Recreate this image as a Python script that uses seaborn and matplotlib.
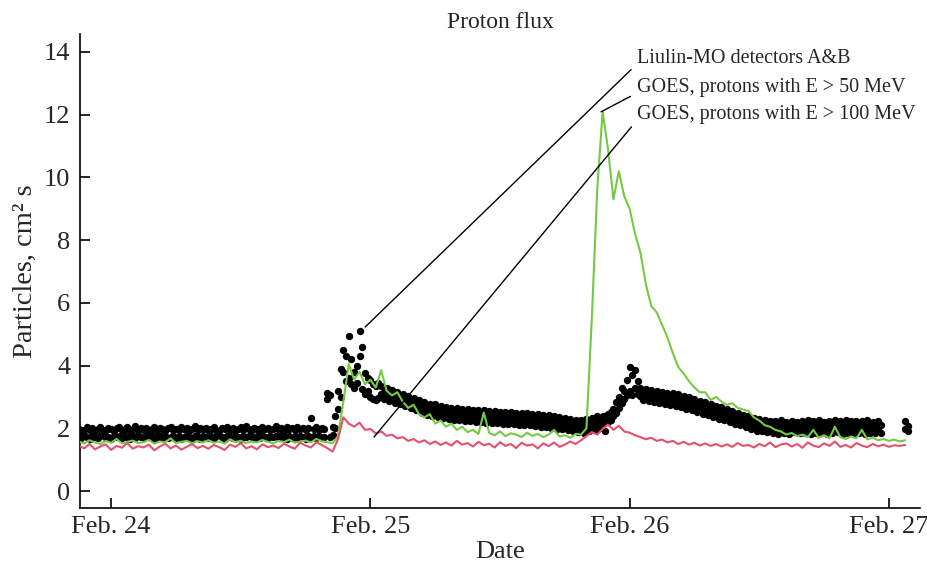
import numpy as np
import pandas as pd
import seaborn as sns
import matplotlib.pyplot as plt

# Liulin samples every 15 min, GOES every 30 min; both start Feb 23, 21:00 (time in days)
t0 = 23.875
liulin_step = 1 / 96
goes_step = 1 / 48

nan = np.nan

liulin_a = [1.99, 1.93, 1.96, 2.03, 1.95, 2.01, 1.92, 1.98, 2.04, 1.96, 1.94, 2.02, 1.97, 1.91, 2.00, 2.05,
            1.95, 1.99, 2.03, 1.93, 1.97, 2.06, 1.94, 2.00, 1.96, 2.02, 1.92, 1.98, 2.04, 1.95, 2.01, 1.97,
            1.93, 2.00, 2.05, 1.96, 1.99, 1.94, 2.03, 1.97, 2.01, 1.92, 1.98, 2.06, 1.95, 2.00, 1.97, 2.02,
            1.94, 1.99, 2.04, 1.96, 1.92, 2.01, 1.98, 2.05, 1.95, 2.00, 1.93, 1.97, 2.03, 1.96, 2.08, 1.99,
            1.95, 2.02, 1.97, 1.93, 2.04, 1.98, 2.01, 1.94, 1.99, 2.06, 1.96, 2.00, 1.93, 2.03, 1.97, 2.01,
            1.95, 2.04, 1.98, 2.02, 1.94, 2.00, 2.33, 1.97, 2.05, 1.96, 2.01, 1.98, 3.12, 3.05, 2.04, 2.40,
            3.20, 3.90, 4.50, 4.30, 4.95, 4.20, 3.80, 4.00, 5.10, 4.60, 3.75, 3.60, 3.55, 3.40, 3.35, 3.45,
            3.34, 3.17, 3.28, 3.10, 3.22, 3.06, 3.15, 2.99, 3.09, 2.93, 3.02, 2.86, 2.97, 2.80, 2.90, 2.73,
            2.84, 2.68, 2.79, 2.65, 2.76, 2.60, 2.72, 2.56, 2.69, 2.55, 2.66, 2.52, 2.66, 2.50, 2.63, 2.48,
            2.61, 2.46, 2.59, 2.45, 2.58, 2.43, 2.57, 2.42, 2.55, 2.41, 2.54, 2.40, 2.53, 2.39, 2.52, 2.38,
            2.52, 2.37, 2.50, 2.36, 2.49, 2.34, 2.48, 2.33, 2.46, 2.31, 2.45, 2.30, 2.43, 2.28, 2.41, 2.26,
            2.39, 2.24, 2.37, 2.22, 2.34, 2.19, 2.31, 2.16, 2.28, 2.13, 2.25, 2.10, 2.30, 2.16, 2.34, 2.20,
            2.38, 2.27, 2.40, 2.30, 2.45, 2.52, 2.62, 2.85, 3.00, 3.30, 3.20, 3.55, 3.95, 3.70, 3.85, 3.50,
            3.29, 3.14, 3.26, 3.11, 3.23, 3.08, 3.20, 3.05, 3.17, 3.02, 3.14, 2.99, 3.11, 2.96, 3.08, 2.92,
            3.04, 2.87, 2.99, 2.82, 2.93, 2.77, 2.88, 2.71, 2.83, 2.66, 2.77, 2.61, 2.72, 2.55, 2.67, 2.50,
            2.61, 2.44, 2.55, 2.39, 2.50, 2.33, 2.44, 2.27, 2.39, 2.22, 2.33, 2.17, 2.29, 2.14, 2.27, 2.12,
            2.24, 2.10, 2.22, 2.08, 2.25, 2.11, 2.21, 2.07, 2.24, 2.12, 2.20, 2.09, 2.23, 2.10, 2.26, 2.08,
            2.22, 2.09, 2.25, 2.11, 2.21, 2.08, 2.24, 2.10, 2.27, 2.12, 2.22, 2.07, 2.25, 2.11, 2.23, 2.09,
            2.24, 2.10, 2.22, 2.08, 2.26, 2.11, 2.21, 2.09, 2.23, 2.10, nan, nan, nan, nan, nan, nan,
            nan, nan, 2.22, 2.08]

liulin_b = [1.74, 1.69, 1.78, 1.71, 1.66, 1.76, 1.72, 1.68, 1.75, 1.79, 1.70, 1.73, 1.67, 1.76, 1.71, 1.74,
            1.69, 1.77, 1.72, 1.66, 1.75, 1.70, 1.78, 1.73, 1.68, 1.74, 1.71, 1.79, 1.67, 1.73, 1.76, 1.70,
            1.75, 1.68, 1.72, 1.77, 1.70, 1.74, 1.66, 1.73, 1.78, 1.71, 1.69, 1.75, 1.72, 1.67, 1.76, 1.73,
            1.70, 1.76, 1.68, 1.74, 1.79, 1.71, 1.67, 1.75, 1.72, 1.69, 1.77, 1.73, 1.66, 1.74, 1.71, 1.76,
            1.72, 1.67, 1.75, 1.70, 1.78, 1.73, 1.68, 1.76, 1.71, 1.74, 1.69, 1.77, 1.72, 1.66, 1.75, 1.70,
            1.74, 1.69, 1.77, 1.72, 1.67, 1.75, 1.71, 1.74, 1.68, 1.76, 1.70, 1.73, 2.95, 1.72, 1.78, 2.00,
            2.60, 3.00, 3.80, 3.50, 3.60, 3.40, 3.30, 3.45, 4.30, 3.25, 3.10, 3.20, 3.00, 2.95, 2.90, 2.98,
            3.08, 2.93, 3.02, 2.88, 2.99, 2.82, 2.92, 2.76, 2.86, 2.70, 2.80, 2.64, 2.73, 2.57, 2.66, 2.50,
            2.59, 2.44, 2.55, 2.40, 2.51, 2.36, 2.47, 2.32, 2.44, 2.30, 2.42, 2.28, 2.40, 2.26, 2.38, 2.24,
            2.36, 2.22, 2.35, 2.21, 2.33, 2.20, 2.32, 2.18, 2.31, 2.17, 2.29, 2.16, 2.28, 2.15, 2.27, 2.14,
            2.27, 2.13, 2.25, 2.12, 2.24, 2.10, 2.22, 2.09, 2.21, 2.07, 2.19, 2.05, 2.17, 2.04, 2.15, 2.02,
            2.13, 1.99, 2.11, 1.97, 2.08, 1.94, 2.05, 1.91, 2.02, 1.88, 1.99, 1.86, 2.04, 1.92, 2.08, 1.96,
            2.15, 2.02, 2.18, 1.90, 2.20, 2.28, 2.40, 2.50, 2.65, 2.80, 2.95, 3.05, 3.20, 3.05, 3.30, 3.10,
            3.03, 2.90, 3.00, 2.87, 2.97, 2.84, 2.94, 2.81, 2.91, 2.78, 2.88, 2.75, 2.85, 2.72, 2.82, 2.68,
            2.78, 2.63, 2.73, 2.58, 2.67, 2.53, 2.62, 2.47, 2.57, 2.42, 2.51, 2.37, 2.46, 2.31, 2.41, 2.26,
            2.35, 2.20, 2.29, 2.15, 2.24, 2.09, 2.18, 2.03, 2.13, 1.98, 2.07, 1.93, 2.03, 1.90, 2.01, 1.88,
            1.99, 1.85, 1.97, 1.83, 2.00, 1.86, 1.96, 1.82, 1.98, 1.87, 1.95, 1.84, 1.99, 1.85, 2.01, 1.83,
            1.97, 1.84, 2.00, 1.86, 1.96, 1.83, 1.99, 1.85, 2.02, 1.87, 1.97, 1.82, 2.00, 1.86, 1.98, 1.84,
            1.99, 1.85, 1.97, 1.83, 2.01, 1.86, 1.96, 1.84, 1.98, 1.85, nan, nan, nan, nan, nan, nan,
            nan, nan, 1.98, 1.90]

goes_50 = [1.58, 1.52, 1.62, 1.55, 1.50, 1.60, 1.54, 1.66, 1.52, 1.57, 1.61, 1.53,
           1.56, 1.63, 1.51, 1.58, 1.55, 1.68, 1.53, 1.57, 1.60, 1.52, 1.59, 1.55,
           1.62, 1.54, 1.58, 1.51, 1.65, 1.56, 1.60, 1.53, 1.58, 1.55, 1.63, 1.57,
           1.52, 1.60, 1.56, 1.64, 1.54, 1.58, 1.61, 1.55, 1.66, 1.59, 1.56, 1.52,
           1.75, 2.85, 4.05, 3.55, 3.80, 3.40, 3.55, 3.30, 3.85, 3.20, 3.05, 3.15,
           2.85, 2.65, 2.75, 2.45, 2.35, 2.45, 2.15, 2.25, 2.05, 2.15, 1.95, 2.05,
           1.88, 1.95, 1.82, 2.50, 1.85, 1.78, 1.90, 1.75, 1.84, 1.80, 1.72, 1.86,
           1.76, 1.82, 1.72, 1.80, 1.95, 1.74, 1.78, 1.70, 1.82, 1.80, 2.00, 5.50,
           9.60, 12.10, 10.90, 9.30, 10.20, 9.40, 9.00, 8.20, 7.60, 6.60, 5.90, 5.70,
           5.30, 4.90, 4.40, 3.95, 3.75, 3.50, 3.30, 3.15, 3.15, 2.90, 3.00, 2.85,
           2.75, 2.80, 2.65, 2.60, 2.55, 2.35, 2.25, 2.10, 2.05, 1.95, 1.90, 1.80,
           1.85, 1.75, 1.80, 1.72, 1.95, 1.70, 1.78, 1.68, 2.05, 1.72, 1.66, 1.74,
           1.68, 1.95, 1.65, 1.70, 1.62, 1.66, 1.60, 1.64, 1.58, 1.62]

goes_100 = [1.45, 1.36, 1.50, 1.33, 1.42, 1.49, 1.31, 1.44, 1.38, 1.53, 1.35, 1.43,
            1.39, 1.48, 1.30, 1.42, 1.51, 1.36, 1.45, 1.32, 1.41, 1.50, 1.37, 1.44,
            1.35, 1.47, 1.40, 1.31, 1.48, 1.41, 1.53, 1.36, 1.43, 1.33, 1.49, 1.40,
            1.45, 1.37, 1.51, 1.42, 1.35, 1.54, 1.45, 1.39, 1.56, 1.47, 1.37, 1.26,
            1.65, 2.35, 2.15, 2.05, 2.18, 1.95, 1.98, 1.84, 1.90, 1.76, 1.80, 1.68,
            1.72, 1.60, 1.66, 1.55, 1.62, 1.50, 1.58, 1.47, 1.55, 1.45, 1.60, 1.48,
            1.53, 1.42, 1.57, 1.46, 1.51, 1.39, 1.56, 1.44, 1.50, 1.37, 1.54, 1.45,
            1.49, 1.36, 1.52, 1.43, 1.55, 1.41, 1.48, 1.58, 1.50, 1.62, 1.75, 1.88,
            1.80, 1.98, 2.12, 1.95, 2.08, 1.90, 1.86, 1.78, 1.72, 1.65, 1.70, 1.60,
            1.64, 1.55, 1.60, 1.50, 1.57, 1.48, 1.54, 1.45, 1.52, 1.44, 1.50, 1.42,
            1.49, 1.41, 1.53, 1.44, 1.47, 1.39, 1.50, 1.43, 1.55, 1.40, 1.48, 1.52,
            1.42, 1.50, 1.38, 1.55, 1.45, 1.40, 1.52, 1.44, 1.58, 1.41, 1.47, 1.39,
            1.53, 1.45, 1.40, 1.50, 1.43, 1.48, 1.41, 1.46, 1.44, 1.47]

tick_days = [24, 25, 26, 27]
tick_labels = ["Feb. 24", "Feb. 25", "Feb. 26", "Feb. 27"]
y_ticks = [0, 2, 4, 6, 8, 10, 12, 14]

labels = ["Liulin-MO detectors A&B",
          "GOES, protons with E > 50 MeV",
          "GOES, protons with E > 100 MeV"]
label_pos = [(26.03, 13.78), (26.03, 12.85), (26.03, 11.99)]
label_target = [(24.98, 5.23), (25.89, 12.09), (25.014, 1.72)]


def days(values, step):
    return t0 + step * np.arange(len(values))


liulin = pd.concat([
    pd.DataFrame({"day": days(liulin_a, liulin_step), "flux": liulin_a, "det": "A"}),
    pd.DataFrame({"day": days(liulin_b, liulin_step), "flux": liulin_b, "det": "B"}),
]).dropna()

goes = pd.concat([
    pd.DataFrame({"day": days(goes_50, goes_step), "flux": goes_50, "channel": "E > 50 MeV"}),
    pd.DataFrame({"day": days(goes_100, goes_step), "flux": goes_100, "channel": "E > 100 MeV"}),
])

sns.set_style("ticks")
plt.rcParams["font.family"] = ["Liberation Serif", "DejaVu Serif"]

fig = plt.figure(figsize=(9.28, 5.71), dpi=100)
ax = fig.add_axes([80 / 928, 1 - 508 / 571, 840 / 928, 474 / 571])

sns.scatterplot(data=liulin, x="day", y="flux", color="black", s=28,
                linewidth=0, legend=False, ax=ax, zorder=2)
sns.lineplot(data=goes, x="day", y="flux", hue="channel",
             hue_order=["E > 50 MeV", "E > 100 MeV"],
             palette={"E > 50 MeV": "#76C944", "E > 100 MeV": "#E5506D"},
             estimator=None, linewidth=1.5, legend=False, ax=ax, zorder=3)

for text, pos, target in zip(labels, label_pos, label_target):
    ax.annotate(text, xy=target, xytext=pos, ha="left", va="center", fontsize=14.5,
                arrowprops=dict(arrowstyle="-", color="black", lw=1,
                                shrinkA=3, shrinkB=0, relpos=(0, 0.25)))

ax.set_xlim(23.88, 27.12)
ax.set_ylim(-0.54, 14.57)
ax.set_xticks(tick_days)
ax.set_xticklabels(tick_labels)
ax.set_yticks(y_ticks)
ax.tick_params(direction="in", length=7, width=1.2, labelsize=19, pad=7, color="black")
ax.tick_params(axis="x", pad=6)
sns.despine(ax=ax)
for side in ["left", "bottom"]:
    ax.spines[side].set_color("black")
    ax.spines[side].set_linewidth(1.2)

ax.set_title("Proton flux", fontsize=17, pad=4)
ax.set_xlabel("Date", fontsize=19, labelpad=2)
ax.set_ylabel("Particles, cm² s", fontsize=20.5, labelpad=4)

fig.savefig("out.png", dpi=100)
